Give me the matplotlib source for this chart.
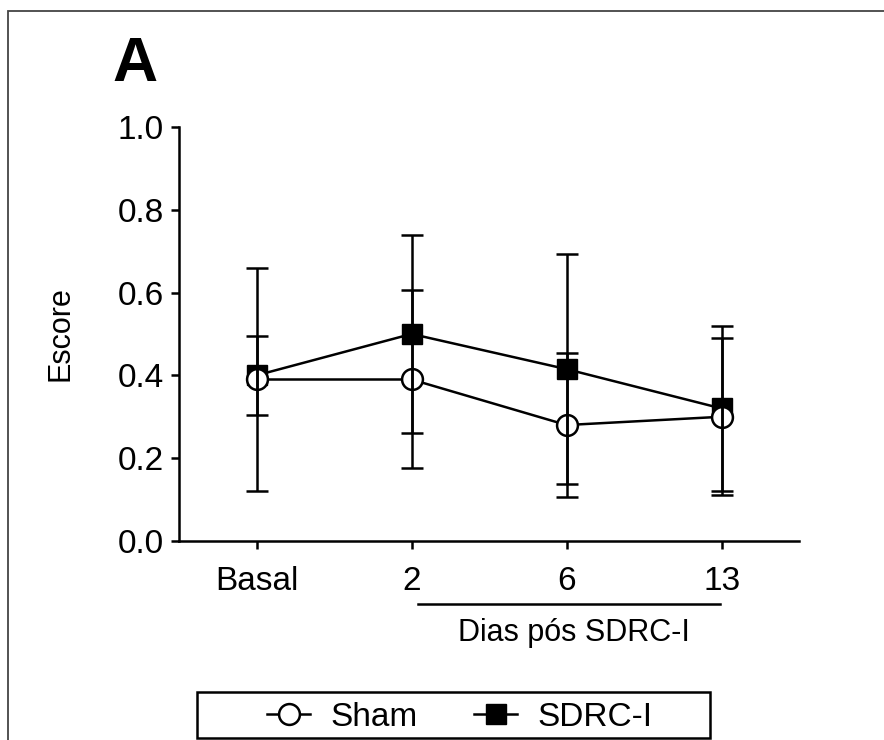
import matplotlib
matplotlib.use('Agg')
import matplotlib.pyplot as plt
from matplotlib.lines import Line2D
from matplotlib.patches import Rectangle

plt.rcParams['font.family'] = ['Liberation Sans', 'DejaVu Sans']

categories = ['Basal', '2', '6', '13']
sham_mean = [0.39, 0.39, 0.28, 0.30]
sham_err = [0.27, 0.215, 0.173, 0.19]
sdrc_mean = [0.40, 0.50, 0.415, 0.32]
sdrc_err = [0.095, 0.24, 0.278, 0.20]

x = list(range(len(categories)))

fig = plt.figure(figsize=(8.84, 7.40), dpi=100)
ax = fig.add_axes([0.2025, 0.269, 0.7015, 0.5594])

# connecting lines
ax.plot(x, sdrc_mean, color='black', lw=1.8, zorder=2)
ax.plot(x, sham_mean, color='black', lw=1.8, zorder=2)
# markers
ax.plot(x, sdrc_mean, ls='none', marker='s', ms=14, mfc='black', mec='black', zorder=3)
ax.plot(x, sham_mean, ls='none', marker='o', ms=15, mfc='white', mec='black', mew=1.8, zorder=3.5)
# error bars on top
ax.errorbar(x, sdrc_mean, yerr=sdrc_err, fmt='none', ecolor='black', elinewidth=1.8,
            capsize=8, capthick=1.8, zorder=4)
ax.errorbar(x, sham_mean, yerr=sham_err, fmt='none', ecolor='black', elinewidth=1.8,
            capsize=8, capthick=1.8, zorder=4)

ax.set_xlim(-0.5, 3.5)
ax.set_ylim(0, 1.0)
ax.set_yticks([0, 0.2, 0.4, 0.6, 0.8, 1.0])
ax.set_yticklabels(['0.0', '0.2', '0.4', '0.6', '0.8', '1.0'])
ax.set_xticks(x)
ax.set_xticklabels(categories)
for s in ['top', 'right']:
    ax.spines[s].set_visible(False)
for s in ['left', 'bottom']:
    ax.spines[s].set_linewidth(1.8)
ax.tick_params(axis='both', labelsize=24, width=1.8, length=6, direction='out')
ax.tick_params(axis='x', pad=12)
ax.tick_params(axis='y', pad=5)
ax.set_ylabel('Escore', fontsize=22, labelpad=30)

# group line under days
tr = ax.get_xaxis_transform()
ax.plot([1.04, 2.99], [-0.152, -0.152], color='black', lw=1.8, transform=tr, clip_on=False)
ax.text(2.05, -0.222, 'Dias pós SDRC-I', transform=tr, ha='center', va='center', fontsize=22)

fig.text(0.153, 0.913, 'A', fontsize=45, fontweight='bold', ha='center', va='center')

# outer frame (left and top edges visible)
fig.patches.append(Rectangle((8 / 884, -0.1), 1.2, 1.1 - 11 / 740, transform=fig.transFigure,
                             fill=False, edgecolor='#444444', lw=1.3))

# legend box
fig.patches.append(Rectangle((197 / 884, 1 - 738 / 740), (710 - 197) / 884, 46 / 740,
                             transform=fig.transFigure, fill=False, edgecolor='black', lw=1.8))

handles = [
    Line2D([], [], color='black', lw=1.8, marker='o', ms=15, mfc='white', mec='black', mew=1.8),
    Line2D([], [], color='black', lw=1.8, marker='s', ms=14, mfc='black', mec='black'),
]
leg = fig.legend(handles, ['Sham', 'SDRC-I'], loc='center', bbox_to_anchor=(0.52, 0.031),
                 ncol=2, fontsize=24, frameon=False, handlelength=1.3,
                 columnspacing=1.7, borderpad=0, handletextpad=0.6, borderaxespad=0)

fig.savefig('out.png', dpi=100)
